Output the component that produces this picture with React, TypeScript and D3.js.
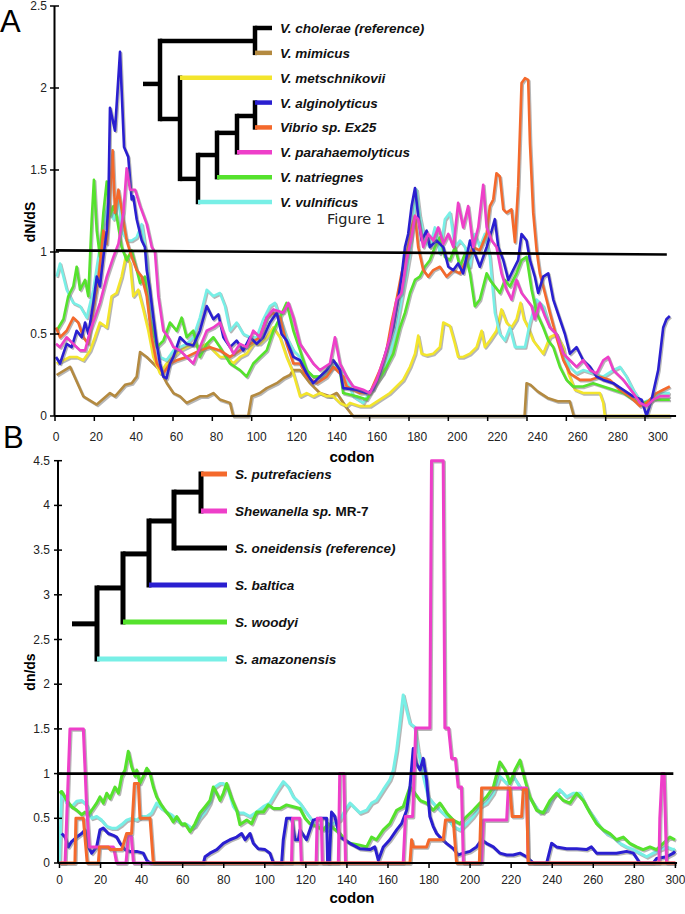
import React from 'react';
import * as d3 from 'd3';

type Pt = [number, number];

// ---------------- Panel A data (codon, dN/dS) ----------------
const codonTicksA = d3.range(0, 301, 20);
const yTicksA = [0, 0.5, 1, 1.5, 2, 2.5];
const refLineA: Pt[] = [[0, 1.01], [304.4, 0.985]];

const brownA: Pt[] = [[0.3,.25],[7,.30],[13.6,.12],[20.3,.07],[26.9,.14],[29.4,.12],[34.4,.19],[37.7,.20],[40.2,.24],[41.9,.39],[45.2,.36],[48.5,.32],[51.8,.28],[55.2,.20],[58.5,.14],[61.8,.12],[65.1,.08],[68.4,.10],[71.7,.12],[75.1,.12],[78.4,.14],[81.7,.10],[86.7,.08],[88.3,0],[95.8,0],[97.5,.12],[101.6,.14],[105,.17],[110,.20],[113.3,.23],[116.6,.25],[118.2,.28],[121.6,.28],[126.6,.20],[131.5,.14],[136.5,.12],[139.9,.14],[144.8,.05],[148,0],[233.5,0],[234.5,.20],[236.5,.19],[240,.15],[245,.11],[250,.09],[256,.09],[258,0],[306,0]];

const yellowA: Pt[] = [[0.3,.32],[3.7,.34],[7,.36],[10.3,.36],[13.6,.34],[17,.40],[19.4,.48],[21.9,.57],[25.3,.54],[27.7,.73],[30.2,.75],[32.7,.85],[34.9,.98],[36.9,.93],[38.5,.73],[41,.77],[43.5,.65],[46,.52],[48.5,.36],[51.8,.26],[55.1,.32],[58.5,.36],[61.8,.40],[65.1,.42],[68.4,.44],[71.7,.42],[75.1,.44],[78.4,.40],[81.7,.36],[85,.36],[88.4,.32],[91.7,.36],[95,.38],[98.3,.44],[101.6,.44],[105,.48],[108.3,.54],[111.6,.48],[114.9,.36],[118.3,.26],[121.6,.12],[124.9,.14],[128.2,.12],[131.5,.14],[134.9,.12],[138.2,.12],[141.5,.08],[144.8,.06],[146.5,.08],[151.4,.06],[156.4,.06],[161.4,.10],[166.4,.14],[169.7,.18],[173,.22],[176.4,.30],[178.9,.38],[180.5,.49],[182.2,.38],[184.7,.37],[188,.38],[191.3,.42],[193,.57],[196.3,.55],[198.8,.44],[200.4,.36],[202.9,.36],[206.3,.38],[209.6,.42],[212.1,.52],[213.7,.42],[216.2,.46],[219.5,.52],[222,.65],[224.5,.57],[227,.54],[229.5,.59],[231.5,.69],[233.2,.59],[235.3,.54],[237.8,.46],[240.3,.42],[242.8,.38],[246.1,.48],[249.4,.50],[252.8,.42],[255.3,.26],[258.6,.16],[262.7,.14],[267.7,.14],[271,.14],[272.7,.08],[273.5,0],[306,0]];

const cyanA: Pt[] = [[0.3,.85],[2,.93],[3.7,.85],[5.3,.77],[8.6,.69],[12,.67],[15.3,.60],[18.6,.77],[21.1,.97],[23.6,1.17],[26.1,1.30],[28.6,1.20],[31.1,1.34],[32.7,1.13],[35.2,1.07],[37.7,1.07],[40.2,1.09],[42.7,1.17],[45.2,.97],[46.8,.73],[49.3,.48],[51.8,.36],[55.1,.34],[58.5,.40],[61.8,.42],[65.1,.44],[68.4,.48],[71.7,.60],[75.1,.77],[78.4,.73],[81.7,.75],[84.2,.67],[86.7,.52],[90,.57],[93.3,.50],[96.7,.48],[100,.48],[103.3,.59],[106.6,.67],[109.1,.69],[111.6,.60],[114.9,.48],[118.3,.40],[121.6,.36],[124.9,.28],[128.2,.24],[133.2,.24],[136.5,.28],[139.8,.32],[144.8,.24],[148.1,.12],[153.1,.08],[158.1,.18],[163.1,.26],[166.4,.38],[169.7,.54],[172.2,.71],[174.7,.87],[176.4,.99],[178.9,1.32],[179.7,1.38],[181.3,1.22],[183.8,1.07],[186.3,1.03],[188.8,1.15],[191.3,.99],[193.8,1.20],[196.3,1.24],[198.8,1.03],[201.3,1.07],[203.8,1.03],[206.3,.91],[208.7,1.11],[211.2,1.03],[213.7,1.11],[216.2,.97],[218.7,.63],[221.2,.50],[223.7,.46],[226.2,.54],[228.7,.42],[233.7,.42],[236.2,.57],[239.5,.71],[242.8,.67],[246.1,.54],[249.4,.50],[252.8,.38],[256.1,.30],[259.4,.26],[262.7,.28],[267.7,.26],[272.7,.24],[277.7,.28],[281,.30],[284.3,.24],[287.6,.16],[291.8,.08],[296,.10],[300.9,.14],[305.9,.14]];

const greenA: Pt[] = [[0.3,.52],[3.7,.59],[6.1,.73],[8.6,.79],[10.3,.91],[12,.77],[14.5,.83],[16.1,.73],[17.8,1.20],[18.9,1.44],[20.3,1.13],[21.9,.97],[23.6,1.24],[25.3,1.43],[26.9,1.22],[28.6,1.28],[30.2,1.22],[32.7,1.03],[35.2,.95],[37.7,1.01],[39.4,.93],[41.9,.81],[44.3,.85],[46.8,.59],[50.2,.42],[53.5,.46],[56.8,.57],[60.1,.52],[62.6,.60],[65.1,.48],[68.4,.52],[71.7,.36],[75.1,.44],[78.4,.48],[81.7,.42],[86.7,.32],[91.7,.28],[95,.24],[98.3,.32],[101.6,.36],[105,.40],[108.3,.52],[111.6,.60],[114.9,.69],[118.3,.52],[121.6,.40],[124.9,.28],[128.2,.24],[131.5,.24],[134.9,.28],[138.2,.34],[141.5,.28],[143.1,.14],[149.8,.12],[154.8,.10],[159.8,.20],[164.7,.30],[168.1,.38],[171.4,.54],[173.9,.63],[176.4,.75],[178.9,.83],[181.3,.85],[183.8,.91],[186.3,.95],[188.8,1.03],[191.3,1.09],[193.8,.97],[196.3,.95],[198.8,1.03],[201.3,.91],[203.8,.99],[206.3,.87],[208.7,.67],[211.2,.71],[214.6,.87],[216.2,.83],[218.7,.79],[221.2,.75],[223.7,.83],[226.2,.79],[229.5,.87],[232,.95],[234.5,.97],[237,.77],[239.5,.63],[242.8,.54],[245.3,.46],[247.8,.42],[251.1,.30],[254.4,.22],[257.7,.18],[262.7,.18],[267.7,.20],[272.7,.18],[277.7,.16],[282.7,.14],[287.6,.10],[292.6,.08],[297.6,.10],[302.6,.10],[305.9,.10]];

const orangeA: Pt[] = [[0,.54],[2,.48],[5.3,.52],[8.6,.60],[11.1,.57],[13.6,.48],[16.1,.44],[18.6,.65],[21.1,.83],[23.6,1.13],[25.3,1.05],[26.9,1.34],[28.2,1.62],[29.4,1.24],[31.1,1.38],[32.7,1.26],[35.2,1.07],[37.7,.97],[40.2,.89],[42.7,.85],[45.2,.73],[47.7,.48],[50.2,.32],[53.5,.26],[56.8,.32],[60.1,.34],[65.1,.36],[71.7,.40],[76.7,.42],[81.7,.40],[86.7,.36],[91.7,.40],[96.7,.44],[101.6,.48],[105,.60],[108.3,.63],[111.6,.60],[114.9,.44],[118.3,.32],[121.6,.32],[124.9,.24],[129.9,.20],[134.9,.24],[138.2,.30],[143.2,.24],[144.8,.18],[151.4,.14],[156.4,.14],[161.4,.28],[164.7,.40],[167.2,.57],[169.7,.71],[172.2,.87],[174.7,.99],[177.2,1.15],[178.9,1.22],[180.5,1.03],[183,.89],[185.5,.85],[188,.89],[191.3,.91],[194.6,.85],[198,.89],[201.3,.87],[204.6,.95],[207.9,1.03],[211.2,1.01],[214.6,1.11],[216.2,1.28],[217.9,1.32],[219.5,1.48],[221.2,1.46],[222.9,1.26],[224.5,1.24],[227,1.26],[228.7,1.06],[230.3,1.40],[232,2.03],[233.7,2.06],[235.3,2.05],[236.2,1.66],[237.8,1.24],[239.5,1.01],[241.1,.87],[243.6,.75],[246.1,.63],[249.4,.48],[252.8,.34],[256.1,.26],[261.1,.22],[266.1,.22],[271,.24],[276,.22],[281,.16],[286,.12],[291,.06],[294.3,.08],[299.3,.14],[302.6,.16],[305.9,.18]];

const blueA: Pt[] = [[0,.36],[2,.32],[5.3,.44],[7.8,.42],[10.3,.52],[12.8,.48],[14.5,.57],[16.1,.50],[18.6,.69],[20.3,.85],[21.9,.79],[23.6,.97],[25.3,1.13],[26.1,1.30],[26.9,1.88],[29.4,1.74],[31.9,2.22],[33.9,1.64],[36,1.58],[37.7,1.32],[38.5,1.34],[40.2,1.20],[42.7,1.07],[44.3,1.03],[45.2,.89],[46.8,.77],[48.5,.60],[50.2,.44],[51.8,.32],[53.5,.24],[55.1,.23],[56.8,.32],[58.5,.36],[61.8,.48],[65.1,.44],[68.4,.43],[71.7,.52],[75.1,.67],[78.4,.59],[80.9,.62],[83.4,.48],[86.7,.42],[90,.46],[93.3,.40],[96.7,.48],[100,.44],[103.3,.48],[106.6,.57],[110,.63],[112.4,.50],[114.9,.46],[118.3,.36],[121.6,.34],[124.9,.26],[128.2,.20],[131.5,.24],[134.9,.28],[138.2,.34],[141.5,.28],[143.1,.17],[149.8,.16],[154.8,.14],[158.1,.16],[161.4,.26],[164.7,.40],[168.1,.54],[170.5,.71],[172.2,.85],[173.9,1.03],[175.5,1.11],[177.2,1.28],[178.9,1.39],[180.5,1.22],[182.2,1.07],[184.7,1.13],[186.3,1.03],[189.6,1.07],[193,1.03],[195.5,.91],[198,.89],[200.4,.93],[202.9,.87],[206.3,1.07],[208.7,.99],[211.2,.91],[214.6,1.03],[217.1,1.13],[218.7,1.20],[220.4,1.03],[222.9,.95],[225.4,.83],[227.8,.89],[230.3,.95],[232,1.11],[234.5,1.07],[236.2,.95],[238.6,.85],[240.3,.75],[242.8,.85],[245.3,.87],[247.8,.71],[251.1,.59],[253.6,.50],[256.1,.38],[259.4,.42],[262.7,.34],[266.1,.30],[269.4,.24],[272.7,.22],[277.7,.20],[282.7,.16],[287.6,.12],[291.8,.10],[294.3,0],[296.8,.10],[300.1,.28],[302.6,.54],[304.2,.59],[305.9,.61]];

const pinkA: Pt[] = [[0,.44],[2,.42],[5.3,.48],[8.6,.44],[12,.40],[14.5,.40],[17,.52],[19.4,.60],[21.9,.69],[25.3,.85],[28.6,.97],[31.1,1.05],[33.6,1.24],[35.2,1.51],[36.9,1.38],[39.4,1.38],[41.9,1.28],[45.2,1.17],[47.7,1.03],[49.3,1.0],[51,.73],[53.5,.52],[56,.48],[58.5,.42],[61.8,.40],[65.1,.36],[68.4,.32],[71.7,.42],[75.1,.52],[78.4,.54],[81.7,.57],[85,.46],[88.4,.38],[91.7,.44],[95,.42],[98.3,.52],[101.6,.48],[105,.60],[108.3,.65],[113.3,.63],[115.8,.69],[118.3,.60],[121.6,.44],[124.9,.38],[128.2,.32],[131.5,.28],[136.5,.32],[139,.48],[141.5,.32],[144.8,.24],[148.1,.18],[153.1,.16],[156.4,.14],[159.8,.22],[163.1,.34],[166.4,.48],[169.7,.71],[172.2,.75],[174.7,.95],[177.2,1.09],[178.9,1.22],[180.5,1.20],[183,1.03],[185.5,1.11],[188,1.07],[190.5,1.15],[193,1.05],[195.5,1.11],[198,1.03],[200.4,1.30],[202.9,1.15],[205.4,1.28],[207.9,1.03],[210.4,1.15],[212.9,1.41],[214.6,1.15],[217.1,1.07],[219.5,1.03],[222,.87],[224.5,.77],[227,.71],[229.5,.83],[232,.75],[234.5,.71],[237,.67],[238.6,.59],[241.1,.69],[243.6,.61],[246.1,.54],[249.4,.50],[252.8,.38],[256.1,.34],[259.4,.30],[262.7,.34],[266.1,.28],[269.4,.26],[272.7,.34],[275.2,.36],[277.7,.28],[282.7,.22],[287.6,.14],[291,.08],[294.3,.06],[297.6,.10],[300.9,.12],[305.9,.12]];

// ---------------- Panel B data (codon, dn/ds) ----------------
const codonTicksB = d3.range(0, 301, 20);
const yTicksB = d3.range(0, 4.51, 0.5);
const refLineB: Pt[] = [[-0.7, 1], [299, 1]];

const cyanB: Pt[] = [[0,0],[1,.8],[3.5,.67],[5.9,.63],[8.4,.69],[10.8,.70],[13.2,.65],[15.7,.50],[18.1,.52],[20.5,.48],[23,.41],[25.4,.39],[27.8,.39],[30.3,.43],[32.7,.48],[35.1,.50],[37.6,.48],[40,.52],[42.5,.52],[44.9,.56],[47.3,.67],[49.8,.61],[52.2,.57],[54.6,.54],[57.1,.48],[59.5,.44],[62,.43],[64.4,.39],[66,.41],[68.4,.50],[70.9,.57],[73.3,.67],[75.7,.85],[78.2,.89],[79.8,.89],[82.2,.82],[84.7,.63],[87.1,.56],[89.5,.56],[92.8,.52],[96,.57],[99.3,.63],[102.5,.67],[105.8,.80],[109,.91],[111.5,.85],[113.9,.74],[117.1,.67],[120.4,.56],[123.6,.46],[126.9,.41],[130.1,.37],[133.4,.44],[136.6,.48],[139.1,.59],[141.5,.67],[146.3,.56],[149.6,.59],[152,.67],[154.4,.70],[157.7,.82],[160.9,.93],[162.6,1.04],[164.2,1.26],[165.8,1.56],[167.4,1.88],[169.1,1.71],[170.7,1.56],[173.1,1.52],[174.7,1.26],[177.2,.97],[179.6,.74],[182,.67],[185.3,.59],[188.5,.52],[191.8,.41],[195,.37],[198.3,.44],[201.5,.52],[204.8,.63],[208,.67],[211.3,.78],[214.5,.97],[217.8,.89],[221,.97],[224.3,.85],[227.5,.78],[230.8,.67],[234,.56],[237.3,.59],[240.5,.74],[243.7,.82],[247,.74],[250.2,.78],[253.5,.78],[256.7,.63],[260,.52],[263.2,.41],[266.5,.33],[269.7,.29],[273,.22],[276.2,.18],[279.5,.15],[282.7,.11],[286,.07],[289.2,.11],[292.4,.15],[295.7,.18],[299,.15],[299.8,.16]];

const greenB: Pt[] = [[0,.78],[1.05,.80],[3.5,.70],[5.9,.63],[8.4,.59],[10.8,.54],[12.4,.57],[14,.54],[15.7,.59],[18.1,.67],[19.7,.74],[21.3,.67],[23,.78],[24.6,.72],[27,.85],[28.7,.78],[30.3,.97],[31.9,1.04],[33.5,1.25],[35.1,1.08],[36.8,.97],[37.6,1.04],[39.2,.89],[40.8,.97],[42.5,1.06],[44.1,1.0],[45.7,.85],[47.3,.74],[49,.67],[51.4,.59],[53.8,.52],[55.4,.46],[57.1,.52],[59.5,.43],[61.1,.44],[63.6,.35],[66,.44],[68.4,.56],[70.9,.63],[73.3,.70],[74.9,.85],[76.6,.78],[78.2,.70],[79.8,.78],[81.4,.89],[83.9,.72],[86.3,.59],[87.9,.43],[91.2,.48],[93.6,.44],[96,.57],[99.3,.57],[101.7,.65],[104.2,.61],[107.4,.61],[110.6,.65],[113.9,.63],[117.1,.61],[119.6,.50],[122,.44],[125.3,.41],[128.5,.37],[130.9,.44],[133.4,.39],[136.6,.33],[139.1,.26],[141.5,.22],[146.3,.20],[149.6,.18],[152,.29],[154.4,.26],[157.7,.37],[160.9,.44],[164.2,.59],[167.4,.63],[170.7,.85],[173.1,.78],[175.6,.70],[178.8,.67],[182,.59],[185.3,.67],[188.5,.56],[191.8,.48],[195,.44],[198.3,.52],[201.5,.59],[204.8,.67],[208,.74],[211.3,.85],[214.5,1.13],[217,1.04],[219.4,.89],[221.8,1.04],[224.3,1.15],[226.7,.93],[229.1,.74],[232.4,.59],[235.6,.56],[238.9,.70],[242.1,.78],[245.4,.70],[248.6,.67],[251.9,.78],[255.1,.70],[258.4,.56],[261.6,.44],[264.9,.37],[268.1,.33],[271.3,.26],[274.6,.29],[277.8,.22],[281.1,.18],[284.3,.15],[287.6,.18],[290.8,.15],[294.1,.22],[297.3,.29],[299.8,.26]];

const blueB: Pt[] = [[1.05,.33],[2.7,.29],[4.3,.18],[5.9,.24],[8.4,.29],[10.8,.33],[12.4,.37],[14,.18],[15.7,.11],[18.1,.18],[19.7,.37],[21.3,.39],[23.8,.33],[26.2,.31],[27.8,.29],[29.5,.22],[31.9,.15],[34.3,.13],[37.6,.13],[40.8,.11],[42.5,.03],[44.1,0],[70.1,0],[70.9,.07],[73.3,.11],[76.6,.15],[79.8,.22],[83,.26],[86.3,.29],[88.7,.33],[90.4,.26],[92.8,.33],[94.4,.22],[96.8,.16],[100.1,.15],[102.5,.11],[104.2,0],[108.2,0],[109,.26],[110.6,.5],[113.1,.5],[114.7,.26],[116.3,.26],[117.1,.37],[120.3,.26],[123.6,.48],[126.8,.50],[130.1,.50],[130.6,0],[131.4,0],[132.5,.57],[134.1,.52],[136.6,.29],[141.5,.22],[146.3,.16],[151.2,.15],[153.6,.18],[155.3,.03],[157.7,.18],[160.9,.26],[164.2,.37],[166.6,.44],[169.1,.59],[170.7,.85],[172.3,1.28],[173.9,1.11],[175.6,1.04],[177.2,1.17],[178.8,.93],[180.4,.52],[182,.41],[183.7,.33],[185.3,.29],[188.5,.22],[191.8,.16],[194.2,.09],[196.7,.11],[199.9,.13],[203.1,.18],[205.6,.26],[208,.22],[211.3,.18],[214.5,.11],[217.8,.09],[221,.09],[224.3,.11],[227.5,.07],[230.8,0],[237.3,0],[239.7,.22],[242.1,.18],[247,.16],[251.9,.16],[256.7,.15],[259.1,.18],[261.6,.11],[266.5,.11],[271.3,.11],[276.2,.13],[279.5,.11],[282.7,0],[289.2,0],[290.8,.05],[295.7,.07],[299,.11],[299.8,.13]];

const pinkB: Pt[] = [[0,0],[2.7,0],[5.1,1.5],[11.6,1.5],[13.2,.63],[14.5,.18],[26.2,.18],[27,.1],[27.8,0],[32.4,0],[33.5,.3],[35,.3],[36,0],[113,0],[113.5,.5],[117,.5],[117.8,0],[125,0],[125.5,.5],[127.5,.5],[128,0],[135.8,0],[136.5,1.0],[138.5,1.0],[139.3,0],[167.4,0],[168.5,.52],[172,.52],[173.5,1.51],[180.4,1.51],[181.2,4.5],[186.9,4.5],[187.7,1.51],[189.5,1.51],[191,1.17],[192.8,1.17],[194.2,.85],[195.8,.85],[196.7,0],[205.6,0],[206.5,.48],[217.8,.48],[218.6,.84],[227.5,.84],[228.3,0],[292,0],[292.4,.5],[293.5,1.0],[294.5,1.0],[295.7,0],[300,0]];

const orangeB: Pt[] = [[0,0],[7.5,0],[8,.5],[11.6,.5],[13.5,0],[18.9,0],[19.5,.18],[23.8,.18],[24.6,.15],[30.3,.15],[32.7,.33],[35.1,.33],[36.5,.89],[38.4,.89],[39.2,.5],[44.1,.5],[45.7,0],[170.7,0],[171.5,.26],[172.3,.18],[178.8,.18],[180,.26],[186.9,.26],[188,.48],[191.8,.48],[193.4,0],[204.5,0],[205.6,.84],[219.4,.84],[220.5,.52],[225.1,.52],[225.9,.82],[227.5,.82],[228.3,0],[300,0]];

// ---------------- colours ----------------
const C = {
  black: '#000000',
  brown: '#b48a40',
  yellow: '#f3e52c',
  blue: '#2a1fd0',
  orange: '#f4692c',
  pink: '#ee3fc9',
  green: '#55e22d',
  cyan: '#78efe6',
};

// ---------------- trees ----------------
type Part = { t: string; i: boolean };
type TNode = { id: string; parent: string | null; depth: number; pos: number; color?: string; label?: Part[] };

const treeA: TNode[] = [
  { id: 'root', parent: null, depth: 0, pos: 2.25 },
  { id: 'n1', parent: 'root', depth: 17, pos: 2.25 },
  { id: 'n2', parent: 'n1', depth: 112, pos: 0.52 },
  { id: 'n3', parent: 'n1', depth: 37, pos: 3.66 },
  { id: 'n4', parent: 'n3', depth: 55, pos: 6.07 },
  { id: 'n5', parent: 'n4', depth: 74, pos: 5.11 },
  { id: 'n6', parent: 'n5', depth: 94, pos: 4.22 },
  { id: 'n7', parent: 'n6', depth: 112, pos: 3.54 },
  { id: 'chol', parent: 'n2', depth: 129, pos: 0, color: C.black, label: [{ t: 'V. cholerae (reference)', i: true }] },
  { id: 'mimi', parent: 'n2', depth: 129, pos: 1, color: C.brown, label: [{ t: 'V. mimicus', i: true }] },
  { id: 'mets', parent: 'n3', depth: 129, pos: 2, color: C.yellow, label: [{ t: 'V. metschnikovii', i: true }] },
  { id: 'algi', parent: 'n7', depth: 129, pos: 3, color: C.blue, label: [{ t: 'V. alginolyticus', i: true }] },
  { id: 'ex25', parent: 'n7', depth: 129, pos: 4, color: C.orange, label: [{ t: 'Vibrio sp. Ex25', i: true }] },
  { id: 'para', parent: 'n6', depth: 129, pos: 5, color: C.pink, label: [{ t: 'V. parahaemolyticus', i: true }] },
  { id: 'natr', parent: 'n5', depth: 129, pos: 6, color: C.green, label: [{ t: 'V. natriegnes', i: true }] },
  { id: 'vuln', parent: 'n4', depth: 129, pos: 7, color: C.cyan, label: [{ t: 'V. vulnificus', i: true }] },
];

const treeB: TNode[] = [
  { id: 'root', parent: null, depth: 0, pos: 4.05 },
  { id: 'm1', parent: 'root', depth: 25, pos: 4.05 },
  { id: 'm2', parent: 'm1', depth: 51, pos: 3.08 },
  { id: 'm3', parent: 'm2', depth: 77, pos: 2.16 },
  { id: 'm4', parent: 'm3', depth: 102, pos: 1.27 },
  { id: 'm5', parent: 'm4', depth: 129, pos: 0.49 },
  { id: 'putr', parent: 'm5', depth: 155, pos: 0, color: C.orange, label: [{ t: 'S. putrefaciens', i: true }] },
  { id: 'mr7', parent: 'm5', depth: 155, pos: 1, color: C.pink, label: [{ t: 'Shewanella sp.', i: true }, { t: ' MR-7', i: false }] },
  { id: 'onei', parent: 'm4', depth: 155, pos: 2, color: C.black, label: [{ t: 'S. oneidensis (reference)', i: true }] },
  { id: 'balt', parent: 'm3', depth: 155, pos: 3, color: C.blue, label: [{ t: 'S. baltica', i: true }] },
  { id: 'wood', parent: 'm2', depth: 155, pos: 4, color: C.green, label: [{ t: 'S. woodyi', i: true }] },
  { id: 'amaz', parent: 'm1', depth: 155, pos: 5, color: C.cyan, label: [{ t: 'S. amazonensis', i: true }] },
];

// ---------------- scales ----------------
const xA = d3.scaleLinear().domain([0, 300]).range([56, 658]);
const xTickA = d3.scaleLinear().domain([0, 300]).range([55, 645]);
const yA = d3.scaleLinear().domain([0, 2.5]).range([416, 6]);
const xB = d3.scaleLinear().domain([0, 300]).range([59.5, 675.4]);
const yB = d3.scaleLinear().domain([0, 4.5]).range([863, 460.7]);

const tickFont = "'Liberation Sans Narrow', 'Arial Narrow', 'Liberation Sans', Arial, sans-serif";
const boldFont = "'Liberation Sans', Arial, Helvetica, sans-serif";

function Tree({ nodes, dScale, pScale, width, labelSize }: { nodes: TNode[]; dScale: d3.ScaleLinear<number, number>; pScale: d3.ScaleLinear<number, number>; width: number; labelSize: number }) {
  const byId = new Map(nodes.map((n) => [n.id, n]));
  const els: React.ReactNode[] = [];
  nodes.forEach((n) => {
    if (!n.parent) return;
    const p = byId.get(n.parent)!;
    els.push(
      <line key={'h' + n.id} x1={dScale(p.depth)} x2={dScale(n.depth)} y1={pScale(n.pos)} y2={pScale(n.pos)} stroke={n.color || C.black} strokeWidth={width} />
    );
    const kids = nodes.filter((k) => k.parent === n.id);
    if (kids.length > 1) {
      const ps = kids.map((k) => pScale(k.pos));
      els.push(
        <line key={'v' + n.id} x1={dScale(n.depth)} x2={dScale(n.depth)} y1={d3.min(ps)! - width / 2} y2={d3.max(ps)! + width / 2} stroke={C.black} strokeWidth={width} />
      );
    }
    if (n.label) {
      els.push(
        <text key={'t' + n.id} x={dScale(n.depth) + 8} y={pScale(n.pos) + 5} fontFamily={boldFont} fontWeight="bold" fontSize={labelSize} fill="#111">
          {n.label.map((pt, i) => (
            <tspan key={i} fontStyle={pt.i ? 'italic' : 'normal'}>{pt.t}</tspan>
          ))}
        </text>
      );
    }
  });
  return <g>{els}</g>;
}

function Series({ data, color, x, y, w }: { data: Pt[]; color: string; x: (v: number) => number; y: (v: number) => number; w: number }) {
  const line = d3.line<Pt>().x((d) => x(d[0])).y((d) => y(d[1]));
  const d = line(data) || '';
  return (
    <g>
      <path d={d} fill="none" stroke="#7a7a7a" strokeWidth={w} strokeOpacity={0.55} transform="translate(1.2,1.4)" strokeLinejoin="round" />
      <path d={d} fill="none" stroke={color} strokeWidth={w} strokeLinejoin="round" />
    </g>
  );
}

export default function App() {
  const seriesA: [Pt[], string][] = [
    [brownA, C.brown], [yellowA, C.yellow], [cyanA, C.cyan], [greenA, C.green], [orangeA, C.orange], [blueA, C.blue], [pinkA, C.pink],
  ];
  const seriesB: [Pt[], string][] = [
    [cyanB, C.cyan], [greenB, C.green], [blueB, C.blue], [pinkB, C.pink], [orangeB, C.orange],
  ];
  const refLine = d3.line<Pt>();
  const dA = d3.scaleLinear().domain([0, 129]).range([143, 272]);
  const pA = d3.scaleLinear().domain([0, 7]).range([28, 202]);
  const dB = d3.scaleLinear().domain([0, 155]).range([72, 227]);
  const pB = d3.scaleLinear().domain([0, 5]).range([474, 659]);

  return (
    <svg width={685} height={914} style={{ position: 'absolute', left: 0, top: 0, background: '#fff' }}>
      <rect x={0} y={0} width={685} height={914} fill="#fff" />
      {/* ---------- Panel A ---------- */}
      <text x={0} y={32} fontFamily={boldFont} fontSize={31} fill="#000">A</text>
      <text x={3} y={448} fontFamily={boldFont} fontSize={31} fill="#000">B</text>

      {seriesA.map(([d, c], i) => (
        <Series key={'a' + i} data={d} color={c} x={xA} y={yA} w={2.6} />
      ))}
      <path d={refLine(refLineA.map((p) => [xA(p[0]), yA(p[1])] as [number, number])) || ''} stroke="#000" strokeWidth={2.6} fill="none" />

      <line x1={54.5} x2={54.5} y1={yA(2.5)} y2={yA(0)} stroke="#000" strokeWidth={2} />
      <line x1={54.5} x2={xA(309)} y1={yA(0)} y2={yA(0)} stroke="#000" strokeWidth={2} />
      {yTicksA.map((t) => (
        <g key={'yta' + t}>
          <line x1={50} x2={59} y1={yA(t)} y2={yA(t)} stroke="#000" strokeWidth={1.5} />
          <text x={47} y={yA(t) + 4} textAnchor="end" fontFamily={tickFont} fontSize={12} fill="#222">{t}</text>
        </g>
      ))}
      {codonTicksA.map((t) => (
        <g key={'xta' + t}>
          <line x1={xTickA(t)} x2={xTickA(t)} y1={yA(0)} y2={yA(0) + 5} stroke="#000" strokeWidth={1.5} />
          <text x={xA(t)} y={441} textAnchor="middle" fontFamily={tickFont} fontSize={12} fill="#222">{t}</text>
        </g>
      ))}
      <text transform={`translate(35,222) rotate(-90)`} textAnchor="middle" fontFamily={boldFont} fontWeight="bold" fontSize={14} fill="#000">dN/dS</text>
      <text x={352} y={462} textAnchor="middle" fontFamily={boldFont} fontWeight="bold" fontSize={15} fill="#000">codon</text>
      <text x={327} y={224} fontFamily="'DejaVu Sans', 'Open Sans', sans-serif" fontSize={14.5} fill="#222">Figure 1</text>

      <Tree nodes={treeA} dScale={dA} pScale={pA} width={4.5} labelSize={13.5} />

      {/* ---------- Panel B ---------- */}
      {seriesB.map(([d, c], i) => (
        <Series key={'b' + i} data={d} color={c} x={xB} y={yB} w={3} />
      ))}
      <path d={refLine(refLineB.map((p) => [xB(p[0]), yB(p[1])] as [number, number])) || ''} stroke="#000" strokeWidth={2.6} fill="none" />

      <line x1={58} x2={58} y1={yB(4.5)} y2={yB(0)} stroke="#000" strokeWidth={2} />
      <line x1={58} x2={xB(300.8)} y1={yB(0)} y2={yB(0)} stroke="#000" strokeWidth={2} />
      {yTicksB.map((t) => (
        <g key={'ytb' + t}>
          <line x1={54} x2={62} y1={yB(t)} y2={yB(t)} stroke="#000" strokeWidth={1.5} />
          <text x={50} y={yB(t) + 4} textAnchor="end" fontFamily={tickFont} fontSize={12} fill="#222">{t}</text>
        </g>
      ))}
      {codonTicksB.map((t) => (
        <g key={'xtb' + t}>
          <line x1={xB(t)} x2={xB(t)} y1={yB(0)} y2={yB(0) + 5} stroke="#000" strokeWidth={1.5} />
          <text x={xB(t)} y={884} textAnchor="middle" fontFamily={tickFont} fontSize={12} fill="#222">{t}</text>
        </g>
      ))}
      <text transform={`translate(35,672) rotate(-90)`} textAnchor="middle" fontFamily={boldFont} fontWeight="bold" fontSize={14} fill="#000">dn/ds</text>
      <text x={352} y={903} textAnchor="middle" fontFamily={boldFont} fontWeight="bold" fontSize={15} fill="#000">codon</text>

      <Tree nodes={treeB} dScale={dB} pScale={pB} width={5} labelSize={13.5} />
    </svg>
  );
}
